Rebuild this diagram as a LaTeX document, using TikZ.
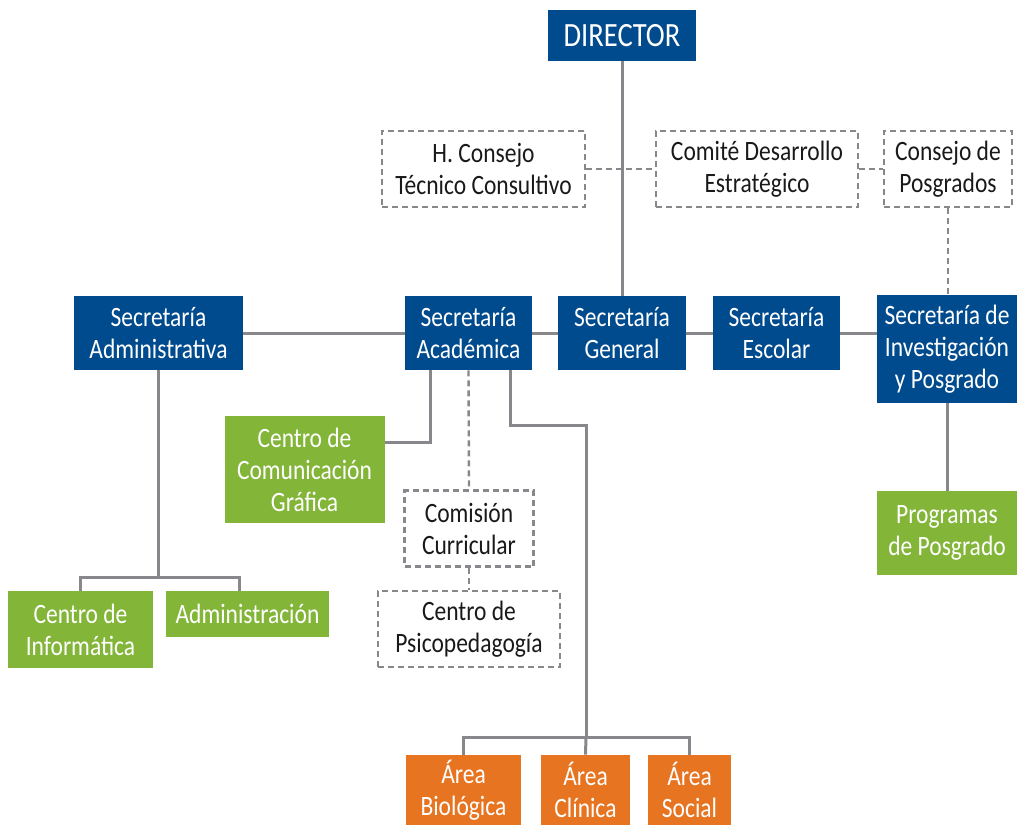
\documentclass[tikz,border=0pt]{standalone}
\usepackage{fontspec}
\setmainfont{Carlito}[FakeStretch=0.84]
\definecolor{SecBlue}{RGB}{0,75,141}
\definecolor{CenGreen}{RGB}{131,181,57}
\definecolor{AreaOrange}{RGB}{231,116,32}
\definecolor{LineGray}{RGB}{135,135,140}
\usetikzlibrary{positioning, calc}

\begin{document}
\begin{tikzpicture}[x=0.5pt, y=-0.5pt,
	box/.style={inner sep=0pt, align=center, font=\fontsize{14}{16}\selectfont},
	sec/.style={box, fill=SecBlue, text=white},
	cen/.style={box, fill=CenGreen, text=white},
	area/.style={box, fill=AreaOrange, text=white},
	comm/.style={box, draw=LineGray, line width=1.2pt, dash pattern=on 3pt off 2pt, text=black!90},
	link/.style={draw=LineGray, line width=1.5pt},
	dlink/.style={draw=LineGray, line width=1.2pt, dash pattern=on 3pt off 2pt}]
	\useasboundingbox (0,0) rectangle (1017,825);

	% top
	\node (dir) at (622,35.5) [sec, minimum width=74pt, minimum height=25.5pt, font=\fontsize{17}{20}\selectfont] {DIRECTOR};
	\node (hctc) at (483.5,169) [comm, minimum width=101.5pt, minimum height=38pt] {H. Consejo\\Técnico Consultivo};
	\node (cde) at (757,169) [comm, minimum width=101pt, minimum height=38pt] {Comité Desarrollo\\Estratégico};
	\node (cpos) at (948,169) [comm, minimum width=64pt, minimum height=38pt] {Consejo de\\Posgrados};

	% secretarias
	\node (sadm) at (158.5,333) [sec, minimum width=84.5pt, minimum height=37pt] {Secretaría\\Administrativa};
	\node (sacad) at (468.5,333) [sec, minimum width=63.5pt, minimum height=37pt] {Secretaría\\Académica};
	\node (sgen) at (622,333) [sec, minimum width=64pt, minimum height=37pt] {Secretaría\\General};
	\node (sesc) at (776.5,333) [sec, minimum width=63.5pt, minimum height=37pt] {Secretaría\\Escolar};
	\node (sinv) at (947,349) [sec, minimum width=70pt, minimum height=54pt] {Secretaría de\\Investigación\\y Posgrado};

	% centros y areas
	\node (pgr) at (947,533) [cen, minimum width=70pt, minimum height=42pt] {Programas\\de Posgrado};
	\node (ccg) at (304.5,469.5) [cen, minimum width=80pt, minimum height=53.5pt] {Centro de\\Comunicación\\Gráfica};
	\node (ccur) at (469,528.5) [comm, minimum width=64.5pt, minimum height=38pt] {Comisión\\Curricular};
	\node (cpsi) at (469,629) [comm, minimum width=91pt, minimum height=38pt] {Centro de\\Psicopedagogía};
	\node (cinf) at (80.5,629.5) [cen, minimum width=72.5pt, minimum height=38.5pt] {Centro de\\Informática};
	\node (cadm) at (247.5,614) [cen, minimum width=81.5pt, minimum height=23pt] {Administración};
	\node (abio) at (463.5,790) [area, minimum width=57.5pt, minimum height=35pt] {Área\\Biológica};
	\node (acli) at (585.5,790) [area, minimum width=44.5pt, minimum height=35pt] {Área\\Clínica};
	\node (asoc) at (689.5,790) [area, minimum width=41.5pt, minimum height=35pt] {Área\\Social};

	\coordinate (admbus) at (158.5,577);
	\coordinate (acadbend) at (510,425);
	\coordinate (areabus) at (586,737);

	\begin{scope}[link]
		\draw (dir.south) -- (sgen.north);
		\draw (sadm.east) -- (sacad.west);
		\draw (sacad.east) -- (sgen.west);
		\draw (sgen.east) -- (sesc.west);
		\draw (sesc.east) -- (sesc.east -| sinv.west);
		\draw (sinv.south) -- (pgr.north);
		\draw (sadm.south) -- (admbus);
		\draw (cinf.north) |- (admbus) -| ($(cadm.north west)!0.45!(cadm.north east)$);
		\draw ($(sacad.south west)!0.2!(sacad.south east)$) |- ($(ccg.north east)!0.25!(ccg.south east)$);
		\draw (sacad.south -| acadbend) -- (acadbend) -| (areabus);
		\draw (abio.north) |- (areabus) -| (asoc.north);
		\draw (areabus) -- (acli.north);
	\end{scope}
	\begin{scope}[dlink]
		\draw (hctc.east) -- (cde.west);
		\draw (cde.east) -- (cpos.west);
		\draw (cpos.south) -- (cpos.south |- sinv.north);
		\draw (sacad.south) -- (ccur.north);
		\draw (ccur.south) -- (cpsi.north);
	\end{scope}
\end{tikzpicture}
\end{document}
